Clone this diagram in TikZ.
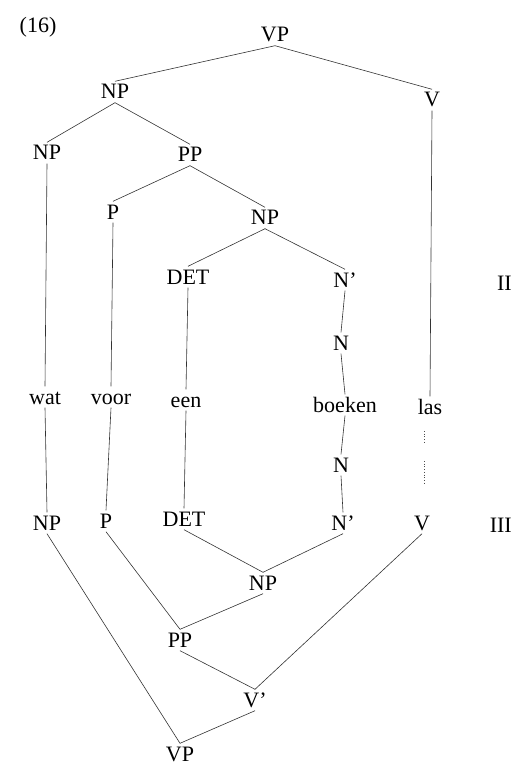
\documentclass[tikz,border=0pt]{standalone}
\usepackage{fontspec}
\setmainfont{Liberation Serif}
\begin{document}
\begin{tikzpicture}[x=1pt,y=-1pt,
  lab/.style={font=\fontsize{22}{24}\selectfont, inner sep=2.5pt, text height=15pt, text depth=1pt},
  word/.style={font=\fontsize{22}{24}\selectfont, inner sep=2.5pt, text height=15pt, text depth=1pt},
  edge/.style={draw=black!80, line width=0.6pt},
  dots/.style={draw=black!70, line width=0.7pt, dotted}]
\useasboundingbox (0,0) rectangle (513,767);

% example number and level marks
\node[lab] (num) at (38,26) {(16)};
\node[lab, anchor=east, inner xsep=0pt] (lvII) at (512,283) {II};
\node[lab, anchor=east, inner xsep=0pt] (lvIII) at (512,525) {III};

% upper tree
\node[lab] (vpT) at (275,35) {VP};
\node[lab] (np1) at (115,92) {NP};
\node[lab] (vT) at (432,100) {V};
\node[lab] (npL) at (47,153) {NP};
\node[lab] (pp1) at (190,155) {PP};
\node[lab] (p1) at (113,212) {P};
\node[lab] (np2) at (265,218) {NP};
\node[lab] (det1) at (188,277) {DET};
\node[lab] (nb1) at (345,280) {N’};
\node[lab] (n1) at (341,343) {N};

% words
\node[word] (wat) at (45,397) {wat};
\node[word] (voor) at (111,397) {voor};
\node[word] (een) at (186,400) {een};
\node[word] (boeken) at (345,405) {boeken};
\node[word] (las) at (430,407) {las};

% lower tree
\node[lab] (n2) at (341,465) {N};
\node[lab] (npB) at (47,523) {NP};
\node[lab] (p2) at (106,521) {P};
\node[lab] (det2) at (184,519) {DET};
\node[lab] (nb2) at (343,523) {N’};
\node[lab] (v2) at (422,523) {V};
\node[lab] (np3) at (263,583) {NP};
\node[lab] (pp2) at (180,640) {PP};
\node[lab] (vbar) at (255,700) {V’};
\node[lab] (vpB) at (180,754) {VP};

% upper branches
\draw[edge] (vpT.south) -- (np1.north);
\draw[edge] (vpT.south) -- (vT.north);
\draw[edge] (np1.south) -- (npL.north);
\draw[edge] (np1.south) -- (pp1.north);
\draw[edge] (pp1.south) -- (p1.north);
\draw[edge] (pp1.south) -- (np2.north);
\draw[edge] (np2.south) -- (det1.north);
\draw[edge] (np2.south) -- (nb1.north);
\draw[edge] (nb1.south) -- (n1.north);

% lines down to the words
\draw[edge] (npL.south) -- (wat.north);
\draw[edge] (p1.south) -- (voor.north);
\draw[edge] (det1.south) -- (een.north);
\draw[edge] (n1.south) -- (boeken.north);
\draw[edge] (vT.south) -- (las.north);

% lines up from the words
\draw[edge] (wat.south) -- (npB.north);
\draw[edge] (voor.south) -- (p2.north);
\draw[edge] (een.south) -- (det2.north);
\draw[edge] (boeken.south) -- (n2.north);
\draw[edge] (n2.south) -- (nb2.north);

% broken link below las
\coordinate (d1) at (424,431);
\coordinate (d2) at (424,442);
\coordinate (d3) at (424,461);
\coordinate (d4) at (424,484);
\draw[dots] (d1) -- (d2);
\draw[dots] (d3) -- (d4);

% lower branches
\draw[edge] (det2.south) -- (np3.north);
\draw[edge] (nb2.south) -- (np3.north);
\draw[edge] (p2.south) -- (pp2.north);
\draw[edge] (np3.south) -- (pp2.north);
\draw[edge] (pp2.south) -- (vbar.north);
\draw[edge] (v2.south) -- (vbar.north);
\draw[edge] (npB.south) -- (vpB.north);
\draw[edge] (vbar.south) -- (vpB.north);
\end{tikzpicture}
\end{document}
